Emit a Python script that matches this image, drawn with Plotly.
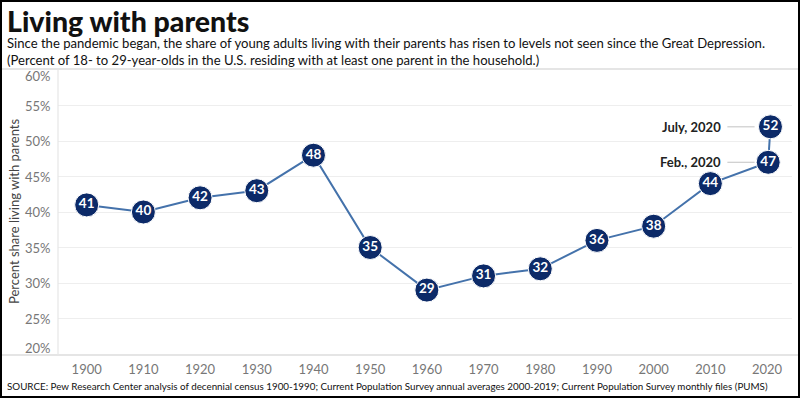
import plotly.graph_objects as go

years = [1900, 1910, 1920, 1930, 1940, 1950, 1960, 1970, 1980, 1990, 2000, 2010, 2020.2, 2020.6]
shares = [41, 40, 42, 43, 48, 35, 29, 31, 32, 36, 38, 44, 47, 52]
tick_years = [1900, 1910, 1920, 1930, 1940, 1950, 1960, 1970, 1980, 1990, 2000, 2010, 2020]
tick_labels = [str(y) for y in tick_years]
y_ticks = [20, 25, 30, 35, 40, 45, 50, 55, 60]
y_tick_labels = [f"{v}%" for v in y_ticks]
callouts = [("July, 2020", 52), ("Feb., 2020", 47)]

W, H = 800, 398
L, R, T, B = 58, 8, 70, 44
PW, PH = W - L - R, H - T - B

def px(x):
    return (x - L) / PW

def py(y):
    return 1 - (y - T) / PH

FONT = "Lato, 'Open Sans', sans-serif"

fig = go.Figure()
fig.add_trace(go.Scatter(
    x=years, y=shares, mode="lines+markers+text",
    text=["<b>" + str(v) + "</b>" for v in shares], textposition="middle center",
    textfont=dict(color="white", size=13.5, family=FONT),
    line=dict(color="#4472ab", width=2),
    marker=dict(size=24, color="#0c2a68", line=dict(color="white", width=1)),
    cliponaxis=False, hoverinfo="skip", showlegend=False,
))

shapes = []
annotations = []
for label, v in callouts:
    annotations.append(dict(x=2012.2, y=v, xref="x", yref="y", text="<b>" + label + "</b>",
                            showarrow=False, xanchor="right", yanchor="middle",
                            font=dict(size=13, color="#222", family=FONT)))
    shapes.append(dict(type="line", xref="x", yref="y", x0=2013.0, x1=2017.8, y0=v, y1=v,
                       line=dict(color="#cccccc", width=1.2), layer="below"))

# y tick labels (end labels nudged inside the plot, as in the reference)
for v, lab in zip(y_ticks, y_tick_labels):
    shift = 6 if v == y_ticks[0] else (-6 if v == y_ticks[-1] else 0)
    annotations.append(dict(x=px(53), y=v, xref="paper", yref="y", text=lab, showarrow=False,
                            xanchor="right", yanchor="middle", yshift=shift,
                            font=dict(size=13, color="#777", family=FONT)))

# separator line and axis frame lines
shapes.append(dict(type="line", xref="paper", yref="paper", x0=px(0), x1=px(W), y0=py(69), y1=py(69),
                   line=dict(color="#dddddd", width=1.5)))
shapes.append(dict(type="line", xref="paper", yref="paper", x0=px(0), x1=px(W), y0=py(355), y1=py(355),
                   line=dict(color="#dddddd", width=1.5)))
shapes.append(dict(type="line", xref="paper", yref="paper", x0=px(58), x1=px(58), y0=py(69), y1=py(355),
                   line=dict(color="#e6e6e6", width=1.2)))
# outer border
shapes.append(dict(type="rect", xref="paper", yref="paper", x0=px(1), x1=px(W - 1), y0=py(H - 1), y1=py(1),
                   line=dict(color="black", width=2), fillcolor="rgba(0,0,0,0)"))

annotations += [
    dict(x=px(14), y=py(212), xref="paper", yref="paper", xanchor="center", yanchor="middle",
         text="Percent share living with parents", textangle=-90, showarrow=False,
         font=dict(size=13, color="#444", family=FONT)),
    dict(x=px(5), y=py(21), xref="paper", yref="paper", xanchor="left", yanchor="middle",
         text="<b>Living with parents</b>", showarrow=False,
         font=dict(size=28.5, color="#111", family="Lato Black, Lato, sans-serif")),
    dict(x=px(5), y=py(43), xref="paper", yref="paper", xanchor="left", yanchor="middle",
         text="Since the pandemic began, the share of young adults living with their parents has risen to levels not seen since the Great Depression.",
         showarrow=False, font=dict(size=13.1, color="#111", family=FONT)),
    dict(x=px(5), y=py(60), xref="paper", yref="paper", xanchor="left", yanchor="middle",
         text="(Percent of 18- to 29-year-olds in the U.S. residing with at least one parent in the household.)",
         showarrow=False, font=dict(size=13.1, color="#111", family=FONT)),
    dict(x=px(5), y=py(386), xref="paper", yref="paper", xanchor="left", yanchor="middle",
         text="SOURCE: Pew Research Center analysis of decennial census 1900-1990; Current Population Survey annual averages 2000-2019; Current Population Survey monthly files (PUMS)",
         showarrow=False, font=dict(size=9.8, color="#111", family=FONT)),
]

fig.update_layout(
    width=W, height=H, margin=dict(l=L, r=R, t=T, b=B, autoexpand=False),
    paper_bgcolor="white", plot_bgcolor="white",
    font=dict(family=FONT, color="#666"),
    xaxis=dict(range=[1894.94, 2024.4], tickvals=tick_years, ticktext=tick_labels,
               showgrid=False, zeroline=False, showline=False, ticks="", automargin=False,
               tickfont=dict(size=13, color="#777"), ticklabelstandoff=6, fixedrange=True),
    yaxis=dict(range=[20, 60], tickvals=y_ticks, showticklabels=False, showgrid=True,
               gridcolor="#eeeeee", gridwidth=1, zeroline=False, showline=False, ticks="",
               automargin=False, fixedrange=True),
    shapes=shapes, annotations=annotations,
)

fig.write_html("out.html", config={"displayModeBar": False},
               post_script="document.body.style.margin='0';document.body.style.overflow='hidden';")
